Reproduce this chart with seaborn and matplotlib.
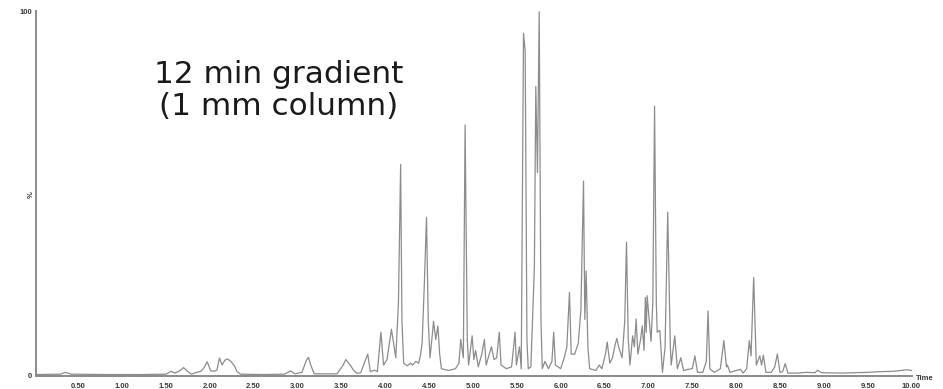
import matplotlib
matplotlib.use("Agg")
import matplotlib.pyplot as plt
import seaborn as sns
import pandas as pd
from matplotlib.ticker import MultipleLocator, FixedLocator

# ---- data (time in min, relative intensity %) ----
time = [0.02, 0.30, 0.35, 0.42, 0.80, 1.20, 1.50, 1.56, 1.60, 1.65, 1.70, 1.75,
        1.79, 1.85, 1.90, 1.94, 1.97, 2.01, 2.05, 2.08, 2.11, 2.14, 2.17, 2.20,
        2.24, 2.28, 2.31, 2.35, 2.60, 2.85, 2.92, 2.97, 3.05, 3.10, 3.125, 3.15,
        3.19, 3.45, 3.52, 3.55, 3.60, 3.64, 3.68, 3.72, 3.76, 3.80, 3.83, 3.88,
        3.91, 3.95, 3.98, 4.02, 4.07, 4.10, 4.12, 4.15, 4.175, 4.19, 4.21, 4.25,
        4.29, 4.31, 4.35, 4.38, 4.40, 4.42, 4.445, 4.47, 4.49, 4.51, 4.535, 4.55,
        4.575, 4.60, 4.62, 4.64, 4.72, 4.80, 4.84, 4.86, 4.89, 4.91, 4.935, 4.95,
        4.99, 5.01, 5.03, 5.06, 5.10, 5.13, 5.15, 5.18, 5.21, 5.24, 5.27, 5.30,
        5.32, 5.38, 5.44, 5.48, 5.495, 5.53, 5.55, 5.576, 5.595, 5.615, 5.63, 5.66,
        5.70, 5.716, 5.735, 5.755, 5.775, 5.79, 5.82, 5.86, 5.90, 5.92, 5.94, 6.00,
        6.04, 6.07, 6.10, 6.12, 6.16, 6.20, 6.23, 6.26, 6.275, 6.29, 6.31, 6.33,
        6.40, 6.44, 6.47, 6.51, 6.53, 6.56, 6.59, 6.62, 6.64, 6.66, 6.70, 6.73,
        6.75, 6.77, 6.79, 6.82, 6.84, 6.86, 6.88, 6.91, 6.93, 6.95, 6.965, 6.975,
        6.985, 7.01, 7.03, 7.05, 7.07, 7.09, 7.10, 7.13, 7.16, 7.19, 7.22, 7.25,
        7.26, 7.30, 7.33, 7.37, 7.40, 7.45, 7.50, 7.53, 7.56, 7.62, 7.66, 7.68,
        7.70, 7.75, 7.82, 7.86, 7.89, 7.90, 7.93, 8.00, 8.05, 8.08, 8.12, 8.15,
        8.17, 8.20, 8.23, 8.27, 8.29, 8.31, 8.34, 8.40, 8.44, 8.47, 8.50, 8.53,
        8.56, 8.59, 8.70, 8.80, 8.90, 8.93, 8.97, 9.20, 9.50, 9.65, 9.80, 9.95,
        10.00]
intensity = [0.4, 0.5, 1.0, 0.5, 0.4, 0.4, 0.5, 1.3, 0.8, 1.3, 2.3, 1.2,
             0.5, 1.0, 1.3, 2.5, 3.9, 1.4, 1.3, 1.6, 4.9, 3.0, 4.3, 4.7,
             4.0, 2.8, 1.2, 0.5, 0.4, 0.5, 1.4, 0.6, 1.0, 4.3, 5.1, 3.0,
             0.6, 0.6, 3.0, 4.5, 3.0, 1.5, 0.7, 0.9, 3.5, 6.0, 1.2, 1.6,
             1.2, 12.0, 3.0, 4.5, 12.8, 8.0, 5.0, 20.0, 58.0, 15.0, 3.5, 2.8,
             3.5, 3.0, 4.0, 3.5, 5.5, 9.0, 25.0, 43.5, 15.0, 5.0, 11.0, 15.0,
             10.0, 13.7, 6.0, 2.0, 1.5, 2.0, 3.5, 10.0, 5.0, 68.8, 10.0, 3.0,
             11.0, 4.5, 7.0, 2.5, 6.0, 10.0, 3.0, 5.5, 8.0, 4.5, 5.0, 12.0,
             3.0, 2.0, 2.5, 12.0, 3.0, 8.0, 2.0, 93.9, 89.0, 10.0, 2.0, 2.5,
             30.0, 79.3, 55.7, 99.8, 15.0, 2.0, 4.0, 2.0, 4.0, 12.0, 3.0, 2.0,
             5.0, 8.0, 22.9, 6.0, 6.0, 9.0, 18.0, 53.4, 15.5, 28.8, 8.0, 2.0,
             1.5, 3.0, 2.0, 6.0, 9.3, 3.5, 5.0, 8.5, 10.3, 8.0, 5.0, 15.0,
             36.7, 10.0, 3.0, 11.0, 8.0, 15.6, 6.0, 10.0, 13.7, 7.0, 21.5, 12.0,
             22.0, 15.0, 9.5, 20.0, 73.9, 20.0, 12.0, 12.5, 1.0, 8.0, 44.9, 8.0,
             3.0, 11.0, 2.0, 5.0, 1.5, 1.8, 2.0, 5.5, 1.0, 1.0, 4.0, 17.8,
             2.0, 1.0, 2.0, 9.7, 2.5, 3.0, 1.0, 1.5, 1.8, 0.8, 2.0, 9.7,
             5.5, 27.0, 3.0, 5.5, 3.0, 5.7, 1.0, 1.0, 2.5, 6.0, 1.0, 1.2,
             3.4, 0.8, 0.8, 1.0, 0.9, 1.6, 0.9, 0.8, 1.0, 1.2, 1.3, 1.7,
             1.5]

x_ticks = [0.5, 1.0, 1.5, 2.0, 2.5, 3.0, 3.5, 4.0, 4.5, 5.0,
           5.5, 6.0, 6.5, 7.0, 7.5, 8.0, 8.5, 9.0, 9.5, 10.0]
x_tick_labels = ["0.50", "1.00", "1.50", "2.00", "2.50", "3.00", "3.50", "4.00",
                 "4.50", "5.00", "5.50", "6.00", "6.50", "7.00", "7.50", "8.00",
                 "8.50", "9.00", "9.50", "10.00"]
y_ticks = [0, 100]
y_tick_labels = ["0", "100"]
annotation_lines = ["12 min gradient", "(1 mm column)"]

df = pd.DataFrame({"time": time, "intensity": intensity})

sns.set_theme(style="white")
plt.rcParams["font.family"] = ["Liberation Sans", "DejaVu Sans"]

W, H = 943, 389
fig = plt.figure(figsize=(W / 100, H / 100), dpi=100)
fig.patch.set_facecolor("white")
ax = fig.add_axes([36 / W, 13 / H, (912 - 36) / W, (376 - 11) / H])
ax.set_facecolor("white")

sns.lineplot(data=df, x="time", y="intensity", ax=ax, color="#8c8c8c",
             linewidth=0.9, estimator=None, sort=False)

ax.set_xlim(0.018, 10.005)
ax.set_ylim(0, 100)
ax.set_xlabel("")
ax.set_ylabel("")

for s in ["top", "right"]:
    ax.spines[s].set_visible(False)
for s in ["left", "bottom"]:
    ax.spines[s].set_color("#8a8a8a")
    ax.spines[s].set_linewidth(1.4)

ax.xaxis.set_major_locator(FixedLocator(x_ticks))
ax.set_xticklabels(x_tick_labels)
ax.xaxis.set_minor_locator(MultipleLocator(0.05))
ax.yaxis.set_major_locator(FixedLocator(y_ticks))
ax.set_yticklabels(y_tick_labels)
ax.yaxis.set_minor_locator(MultipleLocator(10))

ax.tick_params(axis="x", which="major", direction="out", length=3, width=0.8,
               color="#777777", pad=2, labelsize=5.5, labelcolor="#3a3a3a")
ax.tick_params(axis="x", which="minor", direction="out", length=1.8, width=0.6,
               color="#888888")
ax.tick_params(axis="y", which="major", direction="out", length=2, width=0.8,
               color="#777777", pad=1, labelsize=5.5, labelcolor="#3a3a3a")
ax.tick_params(axis="y", which="minor", direction="out", length=1.8, width=0.6,
               color="#888888")
for lab in ax.get_xticklabels() + ax.get_yticklabels():
    lab.set_fontweight("bold")
ax.grid(False)

# axis captions
fig.text(925 / W, 1 - 379 / H, "Time", fontsize=5.5, fontweight="bold",
         color="#3a3a3a", ha="center", va="center")
fig.text(31 / W, 1 - 195 / H, "%", fontsize=5.5, fontweight="bold",
         color="#3a3a3a", ha="center", va="center", rotation=90)

# annotation
fig.text(278.5 / W, 1 - 83 / H, annotation_lines[0], fontsize=22.4,
         family="DejaVu Sans", color="#1a1a1a", ha="center", va="baseline")
fig.text(279 / W, 1 - 115 / H, annotation_lines[1], fontsize=22.4,
         family="DejaVu Sans", color="#1a1a1a", ha="center", va="baseline")

fig.savefig("out.png", dpi=100, facecolor="white")
